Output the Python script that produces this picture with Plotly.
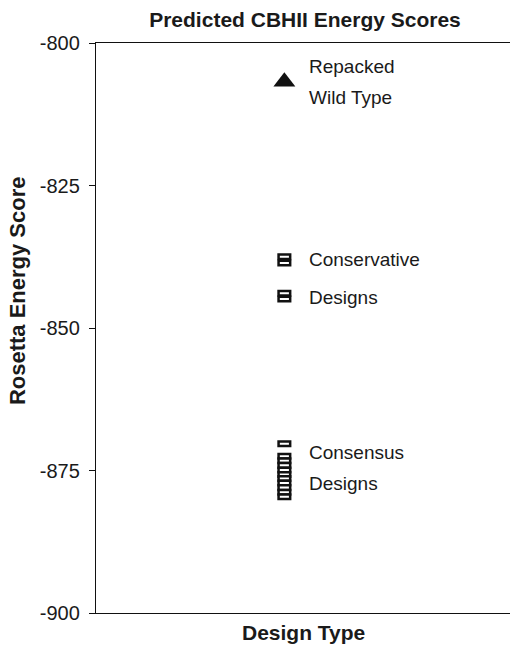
import plotly.graph_objects as go

# Data
wild_type_score = [-806.8]
conservative_scores = [-837.5, -838.6, -843.9, -844.9]
consensus_scores = [-870.3, -872.5, -873.3, -874.1, -874.9, -875.7, -876.4,
                    -877.2, -878.0, -878.8, -879.6]
y_tick_vals = [-900, -875, -850, -825, -800]
y_tick_text = ["-900", "-875", "-850", "-825", "-800"]

X_POS = 0.455
BOX_H = 0.8
FONT = "Liberation Sans, Arial, Helvetica, sans-serif"
TXT = "#1a1a1a"

fig = go.Figure()

design_scores = conservative_scores + consensus_scores
fig.add_trace(go.Bar(
    x=[X_POS] * len(design_scores),
    base=[v - BOX_H / 2 for v in design_scores],
    y=[BOX_H] * len(design_scores),
    width=0.028,
    marker=dict(color="white", line=dict(color="#111", width=2.5)),
    showlegend=False, hoverinfo="skip",
))

fig.add_trace(go.Scatter(
    x=[X_POS] * len(wild_type_score), y=wild_type_score, mode="markers",
    marker=dict(symbol="triangle-up", size=19, color="#111"),
    showlegend=False, hoverinfo="skip",
))

labels = [("Repacked", -804.2), ("Wild Type", -809.6),
          ("Conservative", -837.9), ("Designs", -844.6),
          ("Consensus", -871.9), ("Designs", -877.2)]
annotations = [dict(x=0.51, y=yv, xref="paper", yref="y", text=t, showarrow=False,
                    xanchor="left", yanchor="middle",
                    font=dict(family=FONT, size=19, color=TXT))
               for t, yv in labels]

annotations.append(dict(x=-0.188, xref="paper", y=0.565, yref="paper",
                        text="<b>Rosetta Energy Score</b>", showarrow=False, textangle=-90,
                        xanchor="center", yanchor="middle",
                        font=dict(family=FONT, size=22, color=TXT)))
annotations.append(dict(x=0.5, xref="paper", y=-0.035, yref="paper",
                        text="<b>Design Type</b>", showarrow=False,
                        xanchor="center", yanchor="middle",
                        font=dict(family=FONT, size=21, color=TXT)))

fig.update_layout(
    width=510, height=646,
    margin=dict(l=96, r=0, t=43, b=33, autoexpand=False),
    plot_bgcolor="white", paper_bgcolor="white",
    barmode="overlay",
    title=dict(text="<b>Predicted CBHII Energy Scores</b>", x=305 / 510, xanchor="center",
               y=1 - 20 / 646, yanchor="middle", yref="container",
               font=dict(family=FONT, size=21, color=TXT)),
    xaxis=dict(range=[0, 1], showticklabels=False, ticks="", showgrid=False, zeroline=False,
               showline=True, linecolor="#111", linewidth=1.4, mirror=True),
    yaxis=dict(range=[-900, -800], tickvals=y_tick_vals, ticktext=y_tick_text,
               ticks="outside", ticklen=6, tickcolor="#111", tickwidth=1.2,
               ticklabelstandoff=5,
               showgrid=False, zeroline=False,
               showline=True, linecolor="#111", linewidth=1.4,
               tickfont=dict(family=FONT, size=20, color=TXT)),
    annotations=annotations,
    font=dict(family=FONT),
)

fig.write_html(
    "out.html",
    config={"displayModeBar": False},
    post_script=(
        "document.documentElement.style.overflow='hidden';"
        "document.body.style.margin='0px';document.body.style.overflow='hidden';"
        "var gd=document.getElementById('{plot_id}');"
        "gd.style.position='fixed';gd.style.left='0px';gd.style.top='0px';"
    ),
)
